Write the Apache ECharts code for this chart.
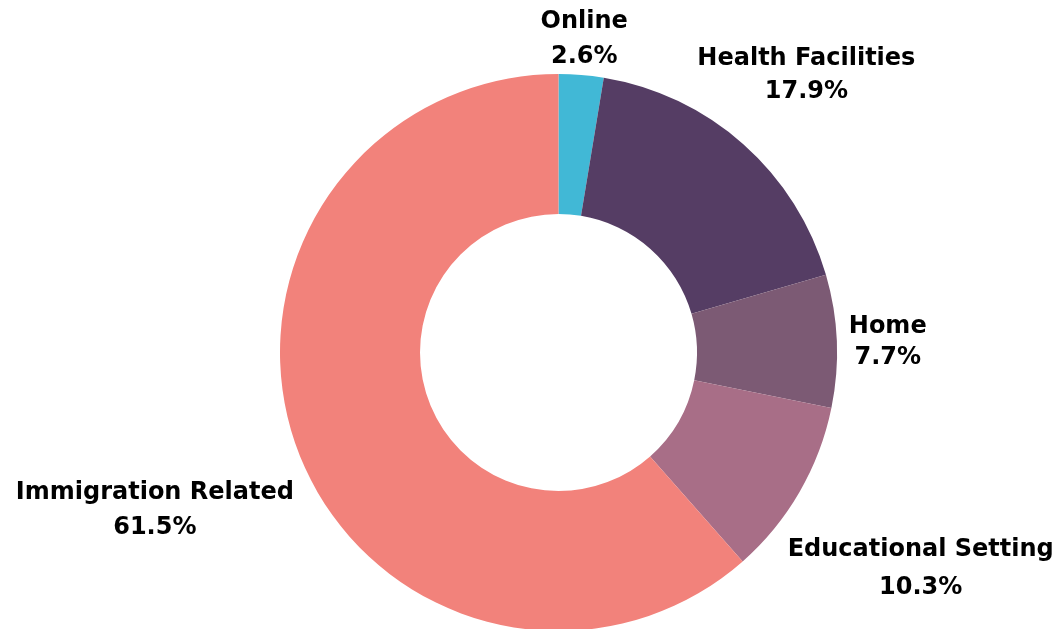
<!DOCTYPE html>
<html>
<head>
<meta charset="utf-8">
<script src="https://cdn.jsdelivr.net/npm/echarts@6/dist/echarts.min.js"></script>
<style>
html,body{margin:0;padding:0;background:#fff;}
#chart{width:1052px;height:629px;}
</style>
</head>
<body>
<div id="chart"></div>
<script>
const categories = ['Online', 'Health Facilities', 'Home', 'Educational Setting', 'Immigration Related'];
const values = [2.6, 17.9, 7.7, 10.3, 61.5];
const colors = ['#41B8D6', '#553D64', '#7C5A74', '#A86E87', '#F2827B'];
// label distance beyond the outer edge, line spacing and small vertical nudge for each slice label
const labelOffsets = [37, 95, 51, 140, 153];
const labelLineHeights = [35, 33, 31, 38, 35];
const labelNudges = [1, 2, 3, 7, 5];

const chart = echarts.init(document.getElementById('chart'));
chart.setOption({
  animation: false,
  series: [{
    type: 'pie',
    center: [558.5, 352.5],
    radius: [138.5, 278.5],
    startAngle: 90,
    clockwise: true,
    avoidLabelOverlap: false,
    label: {
      show: true,
      position: 'outside',
      distanceToLabelLine: 0,
      width: 400,
      overflow: 'none',
      fontFamily: 'DejaVu Sans',
      fontWeight: 'bold',
      fontSize: 24,
      color: '#000',
      formatter: p => p.name + '\n' + p.value.toFixed(1) + '%'
    },
    labelLine: { show: false, length2: 0 },
    labelLayout: p => ({ align: 'center', verticalAlign: 'middle', dy: labelNudges[p.dataIndex] }),
    data: categories.map((c, i) => ({
      name: c,
      value: values[i],
      itemStyle: { color: colors[i] },
      label: { lineHeight: labelLineHeights[i] },
      labelLine: { length: labelOffsets[i], length2: 0, show: false }
    }))
  }]
});
</script>
</body>
</html>
